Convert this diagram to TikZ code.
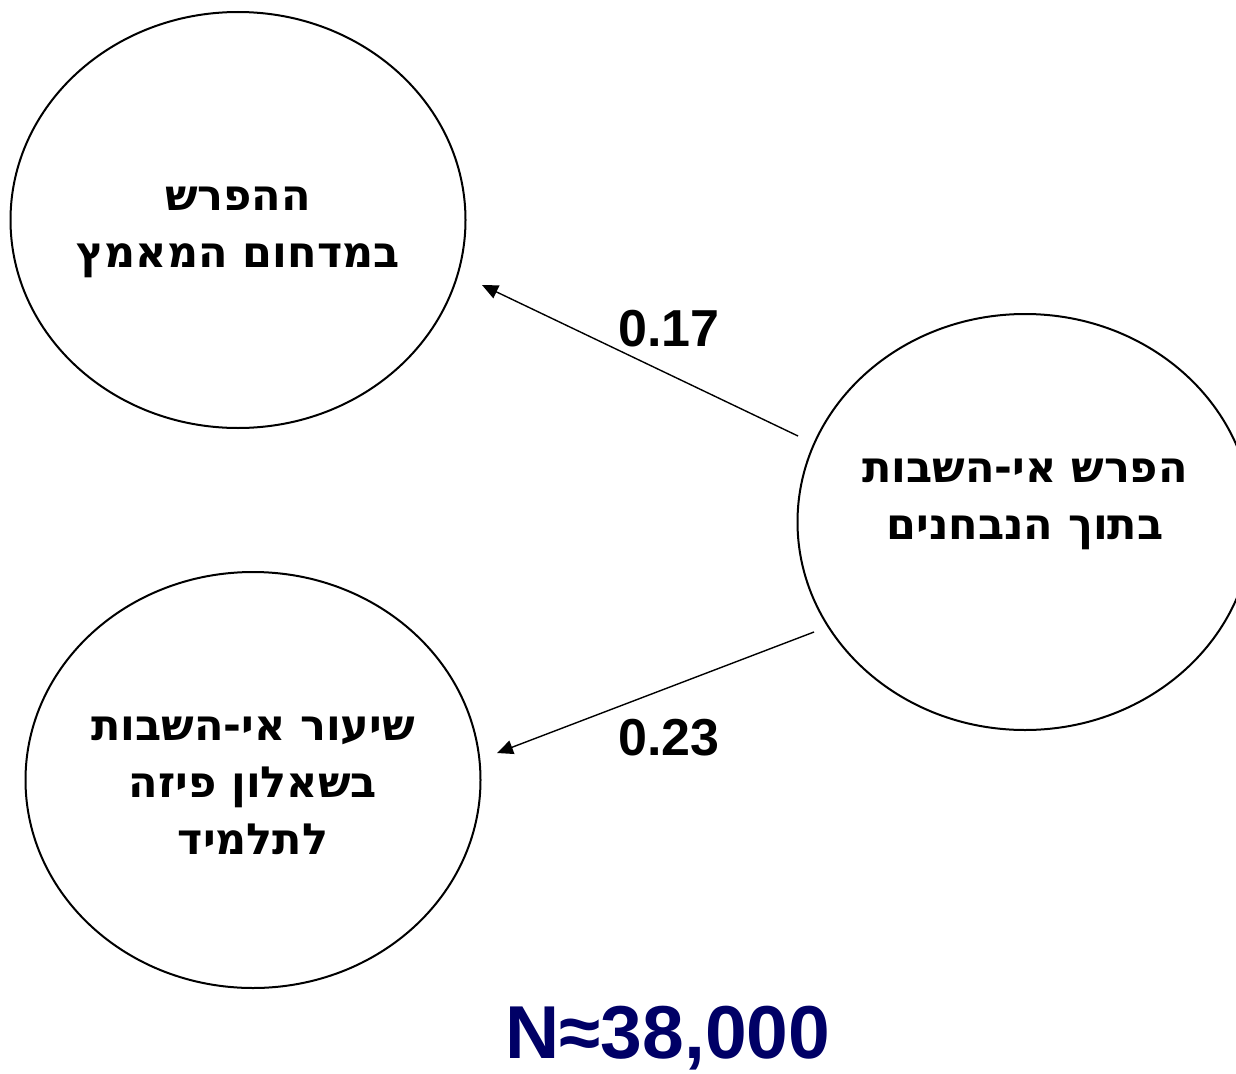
\documentclass[tikz,border=0pt]{standalone}
\usepackage{fontspec}
\setmainfont{Liberation Sans}
\newfontfamily\heb[Script=Hebrew]{DejaVu Sans}
\TeXXeTstate=1
\usetikzlibrary{arrows.meta,shapes.geometric}
\definecolor{navy}{HTML}{000066}
\begin{document}
\begin{tikzpicture}[x=1pt,y=-1pt,
  ell/.style={draw,line width=2pt,ellipse,inner sep=0pt,minimum width=455pt,minimum height=416pt},
  htext/.style={font=\heb\bfseries\fontsize{43}{57}\selectfont,align=center,inner sep=0pt},
  coef/.style={font=\bfseries\fontsize{52}{60}\selectfont,inner sep=0pt},
  arr/.style={line width=1.4pt,-{Triangle[length=16pt,width=14pt]}}]
\useasboundingbox (0,0) rectangle (1236,1073);
\node[ell] (mad) at (238,220) {};
\node[ell] (src) at (1025,522) {};
\node[ell] (sher) at (253,780) {};
\node[htext] (tmad) at (238,232) {\beginR ההפרש\endR\\\beginR במדחום המאמץ\endR};
\node[htext] (tsrc) at (1025,504) {\beginR הפרש אי-השבות\endR\\\beginR בתוך הנבחנים\endR};
\node[htext] (tsher) at (253,786) {\beginR שיעור אי-השבות\endR\\\beginR בשאלון פיזה\endR\\\beginR לתלמיד\endR};
\coordinate (s1) at (798,436);
\coordinate (e1) at (482,285);
\coordinate (s2) at (814,632);
\coordinate (e2) at (497,753);
\draw[arr] (s1) -- (e1);
\draw[arr] (s2) -- (e2);
\node[coef] (c1) at (669,329) {0.17};
\node[coef] (c2) at (669,738) {0.23};
\node[font=\bfseries\fontsize{75}{86}\selectfont,text=navy,inner sep=0pt] (n) at (668,1038) {N≈38,000};
\end{tikzpicture}
\end{document}
